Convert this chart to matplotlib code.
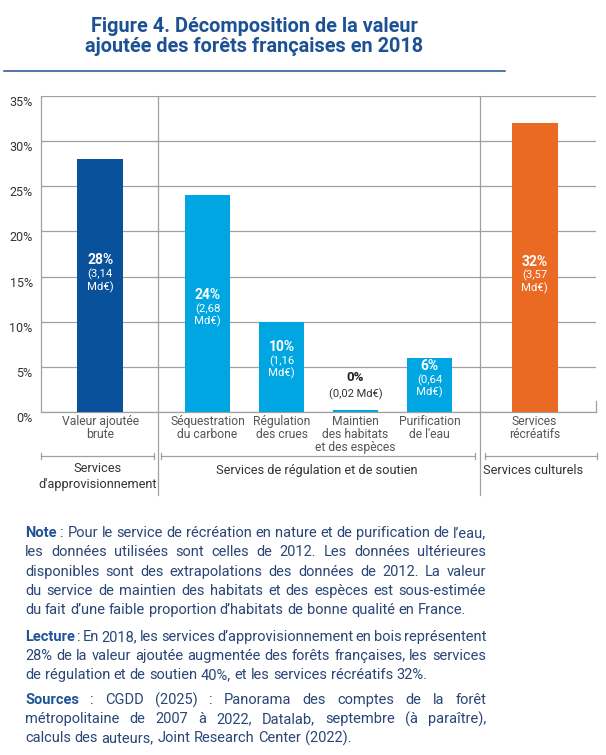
import matplotlib
matplotlib.use("Agg")
import matplotlib.pyplot as plt

plt.rcParams['font.family'] = ['Roboto', 'DejaVu Sans']

# Data
categories = ["Valeur ajoutée\nbrute", "Séquestration\ndu carbone", "Régulation\ndes crues",
              "Maintien\ndes habitats\net des espèces", "Purification\nde l'eau",
              "Services\nrécréatifs"]
shares = [28, 24, 10, 0.2, 6, 32]
pct_labels = ["28%", "24%", "10%", "0%", "6%", "32%"]
amount_labels = ["(3,14\nMd€)", "(2,68\nMd€)", "(1,16\nMd€)", "(0,02 Md€)", "(0,64\nMd€)", "(3,57\nMd€)"]
groups = ["Services\nd'approvisionnement", "Services de régulation et de soutien", "Services culturels"]

# Layout
positions = [0, 1.45, 2.45, 3.45, 4.45, 5.87]
label_frac = [0.6, 0.54, 0.72, None, 0.85, 0.52]
colors = ["#0a519c", "#00a6e2", "#00a6e2", "#00a6e2", "#00a6e2", "#ea6a24"]
separators = [0.78, 5.135]
group_spans = [(-0.8, 0.73), (0.824, 5.07), (5.2, 6.71)]
group_x = [-0.03, 2.93, 5.85]
grey = "#a0a0a0"

W, H = 606, 755
fig = plt.figure(figsize=(W / 100, H / 100), dpi=100)

def fx(px):
    return px / W

def fy(py):
    return 1 - py / H

ax = fig.add_axes([fx(41), fy(412), fx(596) - fx(41), fy(96) - fy(412)])
ax.bar(positions, shares, width=0.62, color=colors, zorder=3)
ax.set_xlim(-0.8, 6.7)
ax.set_ylim(0, 35)
ax.set_yticks(range(0, 36, 5))
ax.set_yticklabels([f"{v}%" for v in range(0, 36, 5)], fontsize=9, color="#333333",
                   va="top")
ax.set_xticks(positions)
ax.set_xticklabels(categories, fontsize=8.7, color="#555555", linespacing=1.0)
ax.tick_params(axis="both", length=0)
ax.tick_params(axis="y", pad=6)
ax.tick_params(axis="x", pad=2)
ax.yaxis.grid(True, color=grey, lw=0.9, zorder=0)
for s in ["top", "right"]:
    ax.spines[s].set_visible(False)
for s in ["left", "bottom"]:
    ax.spines[s].set_color(grey)
    ax.spines[s].set_linewidth(0.9)
ax.plot([6.7, 6.7], [0, 1.2], color=grey, lw=0.9, clip_on=False)

# value labels
for x, v, p, a, f in zip(positions, shares, pct_labels, amount_labels, label_frac):
    if f is None:
        ax.text(x, 3.8, p, ha="center", va="center", fontsize=9.5, fontweight="bold", color="#222222")
        ax.text(x, 2.0, a, ha="center", va="center", fontsize=8, color="#333333")
    else:
        y = v * f
        ax.text(x, y, p, ha="center", va="center", fontsize=10, fontweight="bold", color="white")
        ax.text(x, y - 0.9, a, ha="center", va="top", fontsize=8.2, color="white", linespacing=1.15)

# group separators and brackets
for sx in separators:
    ax.axvline(sx, ymin=-0.263, ymax=1, color=grey, lw=0.9, clip_on=False)
tr = ax.get_xaxis_transform()
by = -0.139
for (x0, x1), gx, g in zip(group_spans, group_x, groups):
    ax.plot([x0, x1], [by, by], color=grey, lw=0.9, transform=tr, clip_on=False)
    for xe in (x0, x1):
        ax.plot([xe, xe], [by - 0.01, by + 0.01], color=grey, lw=0.9, transform=tr, clip_on=False)
    ax.text(gx, -0.203 if "\n" in g else -0.186, g, transform=tr, ha="center", va="center",
            fontsize=9.2, color="#333333", linespacing=1.3)

# title
fig.text(fx(254), fy(17), "Figure 4. Décomposition de la valeur\najoutée des forêts françaises en 2018",
         ha="center", va="top", fontsize=14.3, fontweight="bold", color="#1c5193", linespacing=1.1)
fig.add_artist(plt.Line2D([fx(4), fx(505)], [fy(71), fy(71)], color="#1c5193", lw=1.1))

# notes (justified)
note_lines = [
    ("Note", ": Pour le service de récréation en nature et de purification de l’eau,", True),
    (None, "les données utilisées sont celles de 2012. Les données ultérieures", True),
    (None, "disponibles sont des extrapolations des données de 2012. La valeur", True),
    (None, "du service de maintien des habitats et des espèces est sous-estimée", True),
    (None, "du fait d’une faible proportion d’habitats de bonne qualité en France.", False),
    ("Lecture", ": En 2018, les services d’approvisionnement en bois représentent", True),
    (None, "28% de la valeur ajoutée augmentée des forêts françaises, les services", True),
    (None, "de régulation et de soutien 40%, et les services récréatifs 32%.", False),
    ("Sources", ": CGDD (2025) : Panorama des comptes de la forêt", True),
    (None, "métropolitaine de 2007 à 2022, Datalab, septembre (à paraître),", True),
    (None, "calculs des auteurs, Joint Research Center (2022).", False),
]
line_y = [533, 552, 572, 591, 610, 637, 656, 675, 700, 719, 738]
left, right = 25, 486
fs = 10.5
text_col = "#2a4677"
bold_col = "#1f5596"
renderer = fig.canvas.get_renderer()
for (head, body, just), py in zip(note_lines, line_y):
    words = ([(head, True)] if head else []) + [(w, False) for w in body.split(" ")]
    arts = []
    for w, b in words:
        t = fig.text(0, fy(py), w, fontsize=fs, va="center", ha="left",
                     fontweight="bold" if b else "normal", color=bold_col if b else text_col)
        arts.append(t)
    widths = [t.get_window_extent(renderer).width for t in arts]
    if just and len(arts) > 1:
        gap = (right - left - sum(widths)) / (len(arts) - 1)
    else:
        gap = fs * 1.389 * 0.25
    x = left
    for t, w in zip(arts, widths):
        t.set_x(fx(x))
        x += w + gap

fig.savefig("out.png", dpi=100)
